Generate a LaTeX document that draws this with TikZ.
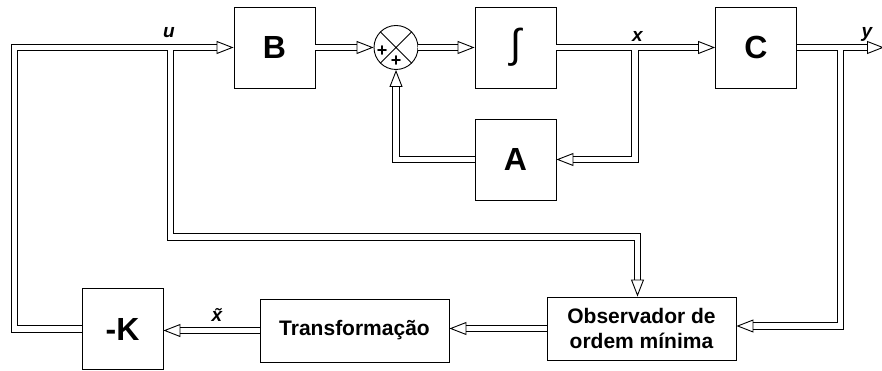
\documentclass[tikz,border=0pt]{standalone}
\usepackage{fontspec}
\setmainfont{Liberation Sans}
\usetikzlibrary{arrows.meta}

\begin{document}
\begin{tikzpicture}[x=1pt,y=-1pt,
  blk/.style={draw, line width=0.9pt, inner sep=0pt, minimum width=81pt, minimum height=81pt, font=\fontsize{32}{32}\selectfont\bfseries},
  wide/.style={draw, line width=0.9pt, inner sep=0pt, minimum width=189pt, minimum height=63pt, align=center, font=\fontsize{21}{25}\selectfont\bfseries},
  sig/.style={double, double distance=5.5pt, line width=0.9pt, -{Triangle[open,length=17pt,width=13pt]}},
  sgn/.style={inner sep=0pt, font=\fontsize{18}{18}\selectfont\bfseries},
  lbl/.style={anchor=base, font=\fontsize{19}{19}\selectfont\bfseries\itshape}]
    \useasboundingbox (0,0) rectangle (882,371);

    % blocks
    \node[blk] (b) at (274.5,47.5) {B};
    \node[draw, circle, line width=0.9pt, minimum size=44pt, inner sep=0pt] (sum) at (396,47.5) {};
    \draw[line width=0.9pt] (sum.north west) -- (sum.south east) (sum.north east) -- (sum.south west);
    \node[sgn] (pl) at (382,51.5) {+};
    \node[sgn] (pb) at (396,61) {+};
    \node[blk] (int) at (515.5,47.5) {\fontsize{40}{40}\fontseries{m}\itshape\selectfont ∫};
    \node[blk] (c) at (756,47.5) {C};
    \node[blk] (a) at (515.5,159.5) {A};
    \node[blk] (k) at (122.5,329) {-K};
    \node[wide] (trans) at (354.5,330.5) {Transformação};
    \node[wide] (obs) at (641.5,328.5) {Observador de\\ordem mínima};

    \coordinate (uleft) at (14.5,47.5);
    \coordinate (ubr) at (170.5,47.5);
    \coordinate (ucorner) at (637.5,237);
    \coordinate (xbr) at (635,47.5);
    \coordinate (ybr) at (840.5,47.5);
    \coordinate (yend) at (884,47.5);

    % signals
    \draw[sig] (b.east) -- (sum.west);
    \draw[sig] (sum.east) -- (int.west);
    \draw[sig] (int.east) -- (c.west);
    \draw[sig] (c.east) -- (yend);
    \draw[sig] (a.west) -| (sum.south);
    \draw[sig] (k.west) -| (uleft) -- (b.west);
    \draw[sig] (obs.west) -- (obs.west -| trans.east);
    \draw[sig] (trans.west) -- (trans.west -| k.east);

    % branches
    \draw[sig, shorten <=2.75pt] (xbr) |- (a.east);
    \draw[sig, shorten <=2.75pt] (ubr) |- (ucorner) -- (ucorner |- obs.north);
    \draw[sig, shorten <=2.75pt] (ybr) |- ([yshift=2.5pt]obs.east);

    \node[lbl] (ulbl) at (169,38) {u};
    \node[lbl] (xlbl) at (637.5,41.7) {x};
    \node[lbl] (ylbl) at (867,38) {y};
    \node[lbl] (xtlbl) at (217,321.7) {\~{x}};
\end{tikzpicture}
\end{document}
